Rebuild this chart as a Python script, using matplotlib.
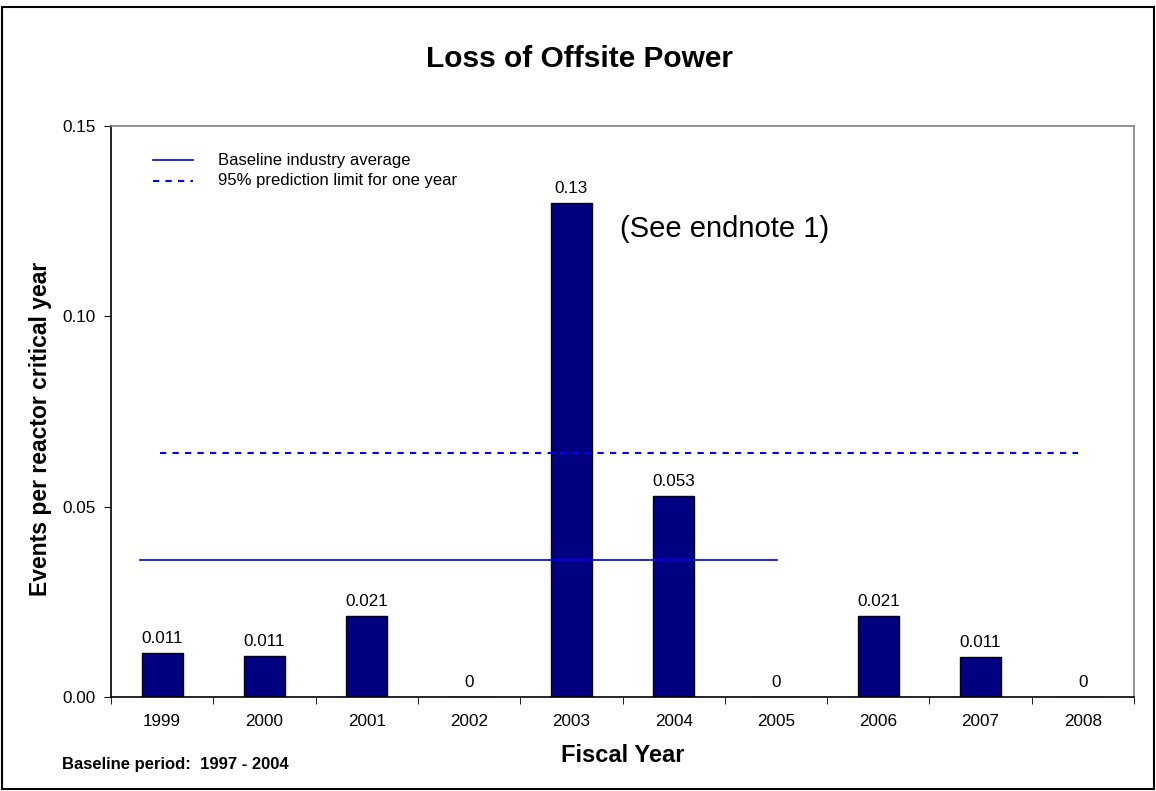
import matplotlib
matplotlib.use('Agg')
import matplotlib.pyplot as plt
from matplotlib.patches import Rectangle

plt.rcParams['font.family'] = ['Liberation Sans', 'DejaVu Sans']

years = ['1999', '2000', '2001', '2002', '2003', '2004', '2005', '2006', '2007', '2008']
rates = [0.0115, 0.0108, 0.0214, 0.0, 0.1297, 0.0529, 0.0, 0.0212, 0.0105, 0.0]
rate_labels = ['0.011', '0.011', '0.021', '0', '0.13', '0.053', '0', '0.021', '0.011', '0']

baseline_avg = 0.036
baseline_span = [-0.22, 6.01]
pred_limit = 0.0642
pred_span = [-0.02, 8.95]

fig = plt.figure(figsize=(11.56, 7.91), dpi=100)
ax = fig.add_axes([0.096, 0.1188, 0.885, 0.7219])

x = list(range(len(years)))
ax.bar(x, rates, width=0.4, color='#000080', edgecolor='black', linewidth=1, zorder=2)
for xi, v, lab in zip(x, rates, rate_labels):
    ax.annotate(lab, (xi, v), xytext=(0, 5), textcoords='offset points',
                ha='center', va='bottom', fontsize=12.3)

ax.plot(baseline_span, [baseline_avg, baseline_avg], color='#0000ff', lw=1.2, zorder=3)
ax.plot(pred_span, [pred_limit, pred_limit], color='#0000ff', lw=1.5,
        dashes=(3, 3), zorder=3)

ax.set_xlim(-0.5, len(years) - 0.5)
ax.set_ylim(0, 0.15)
ax.set_yticks([0, 0.05, 0.10, 0.15])
ax.set_yticklabels(['0.00', '0.05', '0.10', '0.15'], fontsize=12.3)
ax.set_xticks(x)
ax.set_xticklabels(years, fontsize=12.3)
ax.set_xticks([i - 0.5 for i in range(len(years) + 1)], minor=True)
ax.tick_params(axis='x', which='major', length=0, pad=12)
ax.tick_params(axis='x', which='minor', length=5, direction='out')
ax.tick_params(axis='y', length=5, direction='out', pad=6)

for s in ['left', 'bottom']:
    ax.spines[s].set_color('black')
    ax.spines[s].set_linewidth(1.2)
for s in ['top', 'right']:
    ax.spines[s].set_color('#808080')
    ax.spines[s].set_linewidth(1.2)

ax.set_xlabel('Fiscal Year', fontsize=17, fontweight='bold', labelpad=11)
ax.set_ylabel('Events per reactor critical year', fontsize=16.5, fontweight='bold', labelpad=5)
ax.yaxis.set_label_coords(-0.058, 0.47)

fig.text(0.501, 0.925, 'Loss of Offsite Power', ha='center', va='center',
         fontsize=21.5, fontweight='bold')
fig.text(0.054, 0.033, 'Baseline period:  1997 - 2004', ha='left', va='center',
         fontsize=12, fontweight='bold')
ax.text(5.5, 0.1229, '(See endnote 1)', ha='center', va='center', fontsize=21)

# legend drawn by hand at the upper left
fig.lines.append(plt.Line2D([153 / 1156, 193 / 1156], [1 - 160 / 791] * 2,
                            color='#0000ff', lw=1.2, transform=fig.transFigure))
fig.lines.append(plt.Line2D([153 / 1156, 193 / 1156], [1 - 181 / 791] * 2,
                            color='#0000ff', lw=1.5, dashes=(3, 3), transform=fig.transFigure))
fig.text(218 / 1156, 1 - 160 / 791, 'Baseline industry average', va='center', fontsize=12)
fig.text(218 / 1156, 1 - 181 / 791, '95% prediction limit for one year', va='center', fontsize=12)

fig.patches.append(Rectangle((0.002, 0.003), 0.996, 0.988, transform=fig.transFigure,
                             fill=False, edgecolor='black', lw=1.5))

fig.savefig('out.png', dpi=100)
